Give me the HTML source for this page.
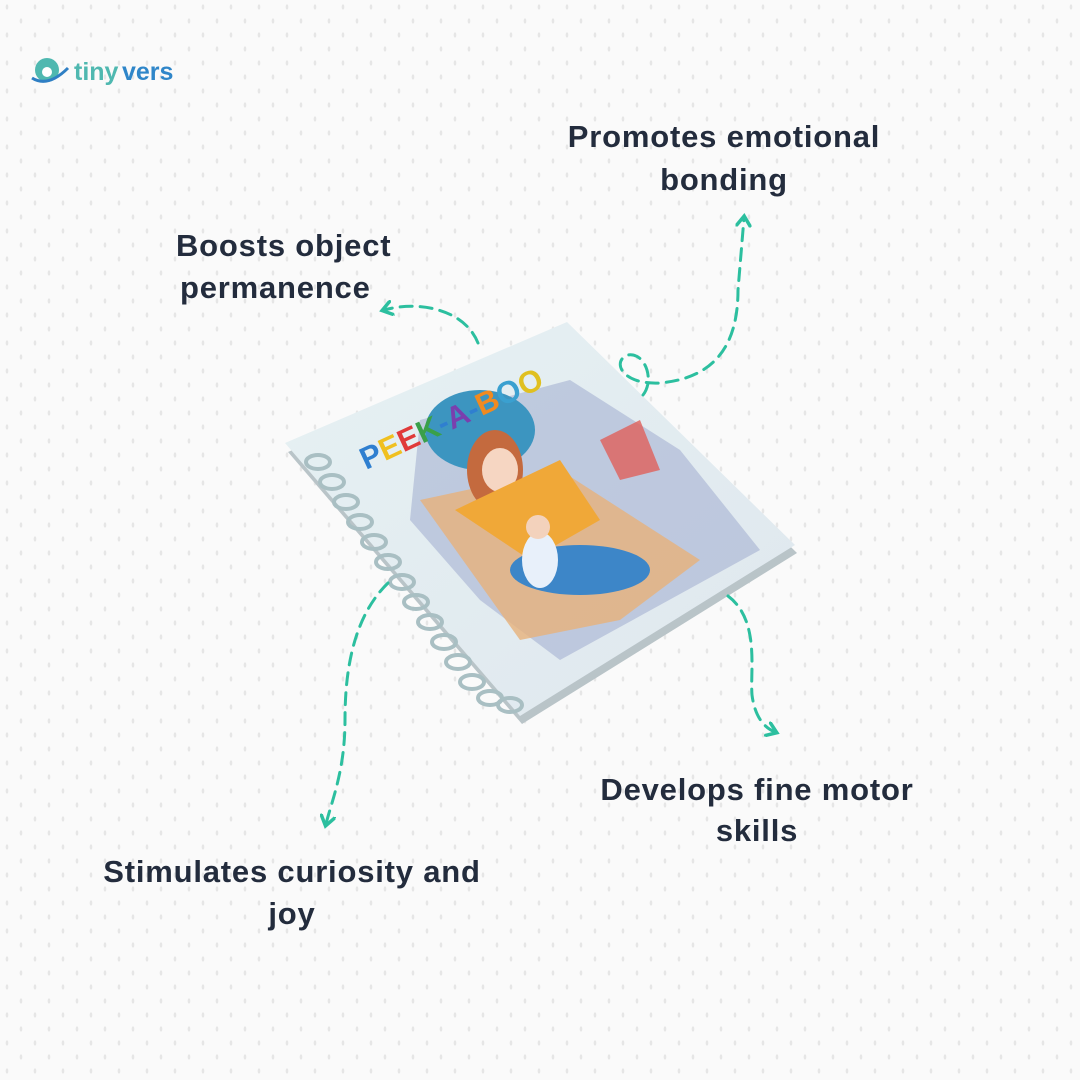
<!DOCTYPE html>
<html><head><meta charset="utf-8"><style>
html,body{margin:0;padding:0;background:#fafafa}
svg{display:block}
text{font-family:"Liberation Sans",sans-serif;font-weight:bold}
</style></head><body>
<svg width="1080" height="1080" viewBox="0 0 1080 1080" xmlns="http://www.w3.org/2000/svg">
<defs>
<pattern id="dots" width="28" height="28" patternUnits="userSpaceOnUse">
<ellipse cx="7" cy="7" rx="1.3" ry="2.6" fill="#e6e6e6"/>
<ellipse cx="21" cy="21" rx="1.3" ry="2.6" fill="#e6e6e6"/>
</pattern>
<marker id="ah" markerWidth="16" markerHeight="16" refX="9" refY="8" orient="auto" markerUnits="userSpaceOnUse"><path d="M1,1 L11,8 L1,15" fill="none" stroke="#2cbf9f" stroke-width="3.5" stroke-linecap="round"/></marker>
<linearGradient id="cov" x1="0" y1="0" x2="1" y2="1"><stop offset="0" stop-color="#e6f1f3"/><stop offset="1" stop-color="#dfe7ee"/></linearGradient>
</defs>
<rect width="1080" height="1080" fill="#fafafa"/>
<rect width="1080" height="1080" fill="url(#dots)"/>

<!-- logo -->
<circle cx="47" cy="70" r="12" fill="#4fb8b0"/>
<circle cx="47" cy="72" r="5" fill="#fff"/>
<path d="M32 78 Q48 88 68 68" stroke="#2f7fc4" stroke-width="3" fill="none"/>
<text x="74" y="80" font-size="25" fill="#4fb8b0">tiny</text>
<text x="122" y="80" font-size="25" fill="#2f86c9">vers</text>

<!-- book -->
<polygon points="288,452 568,330 797,553 522,724" fill="#b9c4c8"/>
<polygon points="285,443 567,322 795,545 520,716" fill="url(#cov)"/>
<polygon points="420,420 570,380 680,450 760,550 560,660 480,600 410,520" fill="#9aa6cc" opacity="0.5"/>
<polygon points="600,440 640,420 660,470 620,480" fill="#e0605a" opacity="0.8"/>
<polygon points="420,500 560,470 700,560 620,620 520,640" fill="#e7b27a" opacity="0.8"/>
<ellipse cx="480" cy="430" rx="55" ry="40" fill="#3c95c0"/>
<ellipse cx="495" cy="470" rx="28" ry="40" fill="#c46a3e"/>
<ellipse cx="500" cy="470" rx="18" ry="22" fill="#f6d6c2"/>
<polygon points="455,510 560,460 600,520 530,560" fill="#f0a838"/>
<ellipse cx="580" cy="570" rx="70" ry="25" fill="#3d86c8"/>
<ellipse cx="540" cy="560" rx="18" ry="28" fill="#e8f0fa"/>
<circle cx="538" cy="527" r="12" fill="#f3d2bc"/>
<text x="0" y="0" font-size="31" fill="#2f7fd0" transform="translate(366,470) rotate(-25)">P<tspan fill="#f0c020">E</tspan><tspan fill="#e03a3a">E</tspan><tspan fill="#3aa04a">K</tspan>-<tspan fill="#7a3fae">A</tspan>-<tspan fill="#f08a20">B</tspan><tspan fill="#3aa0d0">O</tspan><tspan fill="#e0c020">O</tspan></text>
<!-- spiral -->
<g fill="none" stroke="#a9bfc3" stroke-width="4">
<ellipse cx="318" cy="462" rx="12" ry="7"/><ellipse cx="332" cy="482" rx="12" ry="7"/><ellipse cx="346" cy="502" rx="12" ry="7"/><ellipse cx="360" cy="522" rx="12" ry="7"/><ellipse cx="374" cy="542" rx="12" ry="7"/><ellipse cx="388" cy="562" rx="12" ry="7"/><ellipse cx="402" cy="582" rx="12" ry="7"/><ellipse cx="416" cy="602" rx="12" ry="7"/><ellipse cx="430" cy="622" rx="12" ry="7"/><ellipse cx="444" cy="642" rx="12" ry="7"/><ellipse cx="458" cy="662" rx="12" ry="7"/><ellipse cx="472" cy="682" rx="12" ry="7"/><ellipse cx="490" cy="698" rx="12" ry="7"/><ellipse cx="510" cy="705" rx="12" ry="7"/>
</g>

<!-- arrows -->
<g fill="none" stroke="#2cbf9f" stroke-width="3" stroke-dasharray="12,8" stroke-linecap="round">
<path d="M478,343 C465,310 420,300 384,310" marker-end="url(#ah)"/>
<path d="M643,395 C655,380 645,352 628,355 C612,360 620,385 660,383 C715,378 738,345 738,290 L744,218" marker-end="url(#ah)"/>
<path d="M388,583 C350,620 345,680 345,720 C345,770 332,800 326,824" marker-end="url(#ah)"/>
<path d="M728,596 C760,620 750,670 752,695 C755,718 765,728 775,732" marker-end="url(#ah)"/>
</g>

<!-- labels -->
<g fill="#232c3d" font-size="31" letter-spacing="0.8">
<text x="724" y="147" text-anchor="middle">Promotes emotional</text>
<text x="724" y="190" text-anchor="middle">bonding</text>
<text x="176" y="256">Boosts object</text>
<text x="180" y="298">permanence</text>
<text x="757" y="800" text-anchor="middle">Develops fine motor</text>
<text x="757" y="841" text-anchor="middle">skills</text>
<text x="292" y="882" text-anchor="middle">Stimulates curiosity and</text>
<text x="292" y="924" text-anchor="middle">joy</text>
</g>
</svg>
</body></html>
